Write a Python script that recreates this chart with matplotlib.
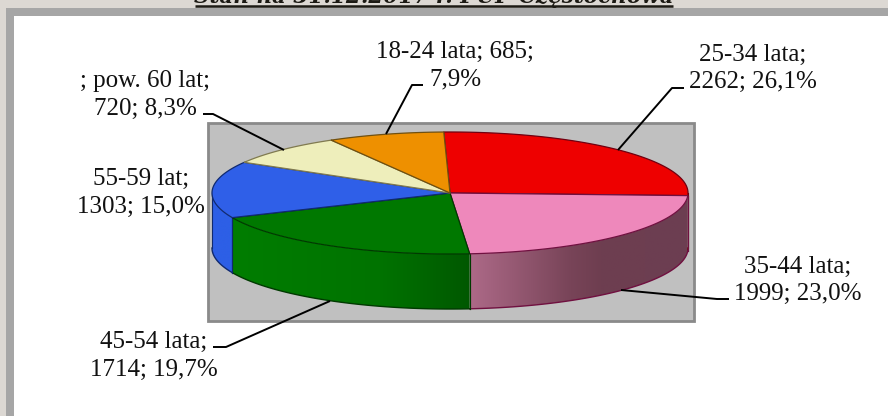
import numpy as np
import matplotlib
matplotlib.use("Agg")
import matplotlib.pyplot as plt
from matplotlib.patches import Rectangle, Polygon

plt.rcParams['font.family'] = ['Liberation Serif', 'DejaVu Serif']

categories = ["25-34 lata", "35-44 lata", "45-54 lata", "55-59 lat", "pow. 60 lat", "18-24 lata"]
counts = [2262, 1999, 1714, 1303, 720, 685]
shares = [26.1, 23.0, 19.7, 15.0, 8.3, 7.9]
colors = ['#ee0000', '#ee88bb', '#007800', '#2f5fe8', '#eeeebb', '#ee9000']
edge_colors = ['#700010', '#701040', '#003a00', '#102a70', '#807a50', '#705010']
title = "Stan na 31.12.2017 r. PUP Częstochowa"

# Pie geometry in pixels
cx, cy = 450, 193
rx, ry = 238, 61
depth = 55
start_angle = 91.5


def ellipse_points(t1, t2, dy=0, n=120):
    t = np.radians(np.linspace(t1, t2, n))
    return np.column_stack([cx + rx * np.cos(t), cy + dy - ry * np.sin(t)])


# Shade of the side wall, depends on x position
def side_color(i, x):
    if i == 1:
        r = np.interp(x, [471, 570, 600, 688], [172, 120, 110, 108])
        g = np.interp(x, [471, 570, 600, 688], [105, 68, 62, 62])
        b = np.interp(x, [471, 570, 600, 688], [135, 88, 80, 82])
    elif i == 2:
        r = np.zeros_like(x)
        g = np.interp(x, [233, 380, 470], [125, 115, 88])
        b = np.zeros_like(x)
    else:
        r, g, b = np.full_like(x, 45), np.full_like(x, 95), np.full_like(x, 230)
    return np.dstack([r, g, b]) / 255


fig = plt.figure(figsize=(8.88, 4.16), dpi=100, facecolor='#dcd8d3')
ax = fig.add_axes([0, 0, 1, 1])
ax.axis('off')

# Frame of the slide
ax.add_patch(Rectangle((6, 8), 900, 420, facecolor='#a6a6a6', edgecolor='none'))
ax.add_patch(Rectangle((14, 16), 900, 420, facecolor='white', edgecolor='none'))

# Title is cut by the top of the picture
ax.text(434, 3.5, title, fontsize=15.5, fontweight='bold', fontstyle='italic', ha='center',
        va='baseline', color='#1c1a14', family=['DejaVu Serif'])
ax.plot([195, 673], [6, 6], color='#1c1a14', lw=1.8, solid_capstyle='butt')

# Plot area
ax.add_patch(Rectangle((207.5, 122.5), 486, 198, facecolor='#c0c0c0', edgecolor='#8a8a8a', lw=2))

angles = start_angle - np.cumsum([0] + shares) / sum(shares) * 360

# Side wall, only the lower half of the ellipse is visible
for i in range(len(counts)):
    a1 = min(angles[i], 0)
    a2 = max(angles[i + 1], -180)
    if a1 <= a2:
        continue
    wall = np.vstack([ellipse_points(a1, a2), ellipse_points(a2, a1, dy=depth)])
    left, right = wall[:, 0].min(), wall[:, 0].max()
    xs = np.linspace(left, right, 200)
    img = ax.imshow(side_color(i, xs), extent=(left, right, cy + ry + depth, cy), aspect='auto',
                    interpolation='bilinear', zorder=2)
    patch = Polygon(wall, transform=ax.transData, facecolor='none', edgecolor='none')
    ax.add_patch(patch)
    img.set_clip_path(patch)
    ax.plot(*ellipse_points(a1, a2, dy=depth).T, color=edge_colors[i], lw=1, zorder=3)
    for a in (a1, a2):
        p = ellipse_points(a, a, n=1)[0]
        ax.plot([p[0], p[0]], [p[1], p[1] + depth], color=edge_colors[i], lw=0.8, zorder=3)

# Top face
for i in range(len(counts)):
    pts = np.vstack([[cx, cy], ellipse_points(angles[i], angles[i + 1])])
    ax.add_patch(Polygon(pts, facecolor=colors[i], edgecolor=edge_colors[i], lw=0.9,
                         joinstyle='round', zorder=4))

# Labels, the empty category name before "pow. 60 lat" is in the original
label_pos = [(753, 68.5), (798, 280.5), (154, 356), (141, 193), (145, 95), (455, 66)]
for i in range(len(counts)):
    pct = f"{shares[i]:.1f}".replace('.', ',')
    if i == 5:
        txt = f"{categories[i]}; {counts[i]};\n{pct}%"
    elif i == 4:
        txt = f"; {categories[i]};\n{counts[i]}; {pct}%"
    else:
        txt = f"{categories[i]};\n{counts[i]}; {pct}%"
    ax.text(label_pos[i][0], label_pos[i][1], txt, fontsize=18, ha='center', va='center',
            linespacing=1.3, color='#111111', zorder=6)

# Leader lines
leaders = [
    [(684, 88), (672, 88), (618, 150)],
    [(729, 299), (717, 299), (621, 290)],
    [(213, 347), (226, 347), (330, 301)],
    [(203, 114), (213, 114), (284, 150)],
    [(423, 85), (412, 85), (386, 134)],
]
for line in leaders:
    xs, ys = zip(*line)
    ax.plot(xs, ys, color='black', lw=1.4, solid_capstyle='butt', zorder=5)

ax.set_xlim(0, 888)
ax.set_ylim(416, 0)

fig.savefig("out.png", dpi=100, facecolor=fig.get_facecolor())
